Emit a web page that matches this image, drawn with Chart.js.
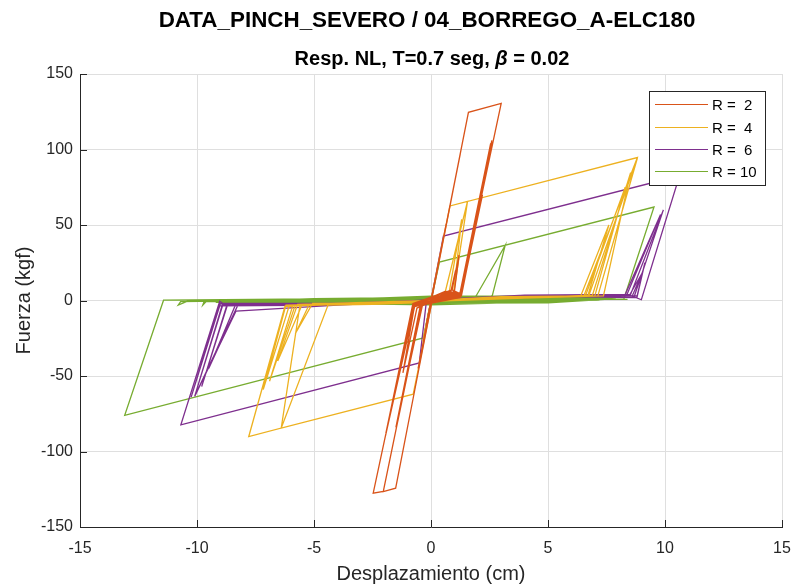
<!DOCTYPE html>
<html>
<head>
<meta charset="utf-8">
<script src="https://cdn.jsdelivr.net/npm/chart.js@4.4.1/dist/chart.umd.min.js"></script>
<style>
  html, body { margin: 0; padding: 0; background: #ffffff; }
  #wrap { width: 793px; height: 586px; position: relative; }
</style>
</head>
<body>
<div id="wrap"><canvas id="hyst" width="793" height="586"></canvas></div>
<script>
// Hysteresis loops, pinching model "severo", record 04_BORREGO_A-ELC180
const seriesLabels = ['R =  2', 'R =  4', 'R =  6', 'R = 10'];
const seriesColors = ['#D95319', '#EDB120', '#7E2F8E', '#77AC30'];

const dispTicks = [-15, -10, -5, 0, 5, 10, 15];
const forceTicks = [-150, -100, -50, 0, 50, 100, 150];

// R = 2 : displacement (cm) / force (kgf)
const dispR2 = [0, 0.64, -0.36, 1.03, -0.55, 1.35, -0.2, 1.25, 0.02, 1.6, 3.0, 1.25, 0.8, 0.35, 0.05,
  -1.51, -2.04, -0.4, 0.5, 1.25, 2.6, 1.3, 0.9, 1.05, 0.85, -0.4, -1.45, -0.42, 0.7, 1.25,
  2.45, 1.27, -0.4, -1.3, -0.42, 1.25, 2.55, 1.25, -0.4, -2.04, -2.47, -0.76, 0.3, 1.25,
  2.5, 1.26, -0.7, -1.95, -0.76, 0.6, 1.25, 2.6, 1.24, -0.76, -1.85, -0.77, 0.9, 1.2,
  1.0, -0.6, -1.2, -0.7, 1.3, 2.2, 1.3, 0.4, 1.22, 2.5, 1.28, 2.58, 1.25, -0.4, -1.42,
  -0.38, -0.78, -1.9, -0.74, -1.7, -0.8, 1.25, 2.4, 1.3, 0.5, 1.2, 2.55, 1.3, -0.45, -1.5,
  -0.35, -0.72, -1.93, -0.8, 0.4];
const forceR2 = [0, 50, -30, 80, -45, 105, -16, 97, 1, 124.6, 130.5, 3, 6, 4, 0,
  -124.3, -126.5, -3, 4, 4, 105, 4, 7, 20, 6, -3, -82, -3, 5, 4,
  93, 5, -2, -70, -3, 3, 100, 4, -3, -126.5, -127.6, -3.5, 3, 4,
  97, 3, -4, -90, -3, 6, 5, 106, 3, -4, -82, -2, 7, 30,
  6, -5, -48, -3, 4, 70, 5, 3, 3, 96, 3, 102, 2, -3, -80,
  -2, -3, -86, -3, -72, -4, 4, 88, 3, 3, 2, 104, 4, -3, -84,
  -2, -3, -88, -4, 2];

// R = 4
const dispR4 = [0, 0.4, -0.35, 0.81, 1.56, 0.55, 0.03, -0.76, -6.4, -4.4, -2.5, 0.2, 0.74, 1.31,
  0.95, 1.56, 8.82, 6.53, 3, 0, -3, -5.6, -6.4, -7.79, -6.24, -3, 0, 3, 6.74, 8.82,
  7.13, 3, -3, -6.2, -7.17, -6.05, 0, 6.9, 8.53, 7.37, 0, -5.8, -6.9, -5.9, 0, 6.6,
  8.3, 7.0, 0, -5.7, -6.55, -5.5, 0, 6.4, 7.6, 6.7, 0, -5.2, -5.8, -5.06, -3];
const forceR4 = [0, 31, -27, 62.6, 65.6, 2, -1.5, -62, -84.5, -3, -2.5, -1, 2, 53.7,
  3, 65.6, 94.7, 3, 2, 0, -2, -3, -84.5, -90.2, -3.8, -2, 0, 2.5, 3, 94.4,
  3, 2, -2, -3, -59, -3, -0.5, 3.5, 84.7, 3, 0, -3, -53.5, -3, 0, 3,
  75, 3, 0, -2.5, -40, -2.5, 0, 3, 50, 3, -0.5, -2.5, -22, -2, -2];

// R = 6
const dispR6 = [0, 0.3, -0.25, 0.53, 10.62, 8.99, 8.5, 4, 0, -0.2, -0.5, -10.69, -9.03, -8.8,
  -4, 0, 4, 8.53, 9.93, 8.67, 4, 0, -4, -8.9, -10.1, -8.9, -4, 0, 4, 8.3, 9.81, 8.35,
  4, -4, -9.05, -10.25, -9.0, -4, 4, 8.81, 9.14, 8.8, 4, -4, -8.7, -9.8, -8.7, -4, 4,
  8.5, 9.03, 8.6, 4, -4, -8.33, -10.1, -8.25, -9.5, -8.33, -4, 0];
const forceR6 = [0, 24, -20, 42.7, 82.6, 0.5, 3.5, 2.5, 0, -1, -41.3, -82.3, -0.5, -3,
  -2.5, 0, 3, 4, 60, 2, 3, 0, -3, -3, -63.5, -2, -2, 0, 3.5, 4, 57, 3,
  3, -3, -3.5, -64, -2, -2.5, 3.5, 3, 25, 2, 3, -3, -3, -57, -2, -2.5, 3,
  4, 18.4, 3, 3, -3, -7, -63.5, -3, -45, -2, -3, 0];

// R = 10
const dispR10 = [0, 0.2, -0.15, 0.36, 9.53, 8.24, 6, 3, 0, -0.33, -13.09, -11.43, -5, 0, 1.89,
  3.17, 2.6, 0, -5, -10.4, -10.8, -10.7, -5, 0, 6, 7.5, 0, -5, -9.6, -9.75, -9.7, 0, 5,
  6.8, 8.4, 6.8, 0, -7, -8, 0, 5, 6, 0, -6, -9, 0, 4, 0, -4, 0,
  -9.2, -5, 0, 5, 7.9, 5, 0, -5, -9.0, -5, 0, 5, 7.6, 5, 0, -5, -8.5, 0, 5, 7.2, 0, -6, 0, 6, 0];
const forceR10 = [0, 14, -11, 25.4, 61.9, 1, 0.8, 0.5, -0.2, -24.8, -76.1, 0.2, 1, 1.5, 2,
  36.5, 2, 1, -0.5, -0.5, -3, -0.8, 0.5, 2.5, 2.8, 1, -2.5, -1.5, -0.5, -3, -0.8, 1.5, 2,
  0.7, 0.7, 0.7, -1.5, -1, -2, 0.5, 1.5, 2.5, -0.5, -1.5, -1, -2.8, -1.2, 0.2, -2, 0,
  -1.2, 0, 2.8, 2.6, 2.0, -0.5, -2.6, -1.8, -1.0, 1.2, 2.0, 1.8, 1.0, -1.5, -1.8, -0.8, -0.5, 1.0, 1.0, 0.3, -1.0, -0.2, 0.3, -0.3, -0.3];

const seriesDisp = [dispR2, dispR4, dispR6, dispR10];
const seriesForce = [forceR2, forceR4, forceR6, forceR10];

const AX = '#262626';
const FONT = '"Liberation Sans", Arial, Helvetica, sans-serif';

const datasets = seriesLabels.map((label, s) => ({
  label,
  data: seriesDisp[s].map((x, i) => ({ x, y: seriesForce[s][i] })),
  showLine: true,
  borderColor: seriesColors[s],
  backgroundColor: seriesColors[s],
  borderWidth: 1.3,
  pointRadius: 0,
  tension: 0,
  fill: false
}));

// Titles, axis names, inward tick marks and the boxed legend
const decorations = {
  id: 'decorations',
  afterDraw(chart) {
    const ctx = chart.ctx;
    const area = chart.chartArea;
    const xs = chart.scales.x, ys = chart.scales.y;
    const cx = (area.left + area.right) / 2;
    ctx.save();

    // inward tick marks
    ctx.strokeStyle = AX;
    ctx.lineWidth = 1;
    ctx.beginPath();
    dispTicks.forEach(v => {
      const px = Math.round(xs.getPixelForValue(v)) + 0.5;
      ctx.moveTo(px, area.bottom);
      ctx.lineTo(px, area.bottom - 7);
    });
    forceTicks.forEach(v => {
      const py = Math.round(ys.getPixelForValue(v)) + 0.5;
      ctx.moveTo(area.left, py);
      ctx.lineTo(area.left + 7, py);
    });
    ctx.stroke();

    // title and subtitle
    ctx.fillStyle = '#000000';
    ctx.textAlign = 'center';
    ctx.textBaseline = 'middle';
    ctx.font = 'bold 22.4px ' + FONT;
    ctx.fillText('DATA_PINCH_SEVERO / 04_BORREGO_A-ELC180', cx - 4, 21);

    const partA = 'Resp. NL, T=0.7 seg, ';
    const partB = '\u03B2';
    const partC = ' = 0.02';
    const fSub = 'bold 20px ' + FONT;
    const fBeta = 'italic bold 20px ' + FONT;
    ctx.font = fSub;
    const wA = ctx.measureText(partA).width;
    const wC = ctx.measureText(partC).width;
    ctx.font = fBeta;
    const wB = ctx.measureText(partB).width;
    let sx = cx + 1 - (wA + wB + wC) / 2;
    ctx.textAlign = 'left';
    ctx.font = fSub;
    ctx.fillText(partA, sx, 59);
    ctx.font = fBeta;
    ctx.fillText(partB, sx + wA, 59);
    ctx.font = fSub;
    ctx.fillText(partC, sx + wA + wB, 59);

    // axis names
    ctx.fillStyle = AX;
    ctx.textAlign = 'center';
    ctx.font = '20px ' + FONT;
    ctx.fillText('Desplazamiento (cm)', cx, 574);
    ctx.save();
    ctx.translate(24, (area.top + area.bottom) / 2);
    ctx.rotate(-Math.PI / 2);
    ctx.fillText('Fuerza (kgf)', 0, 0);
    ctx.restore();

    // legend box drawn over the data
    const lx = 649.5, ly = 91.5, lw = 116, lh = 94;
    ctx.fillStyle = '#ffffff';
    ctx.fillRect(lx, ly, lw, lh);
    ctx.strokeStyle = AX;
    ctx.lineWidth = 1;
    ctx.strokeRect(lx, ly, lw, lh);
    const rows = [104.5, 127.5, 149.5, 171.5];
    ctx.font = '15px ' + FONT;
    ctx.textAlign = 'left';
    ctx.textBaseline = 'middle';
    chart.data.datasets.forEach((ds, i) => {
      ctx.strokeStyle = ds.borderColor;
      ctx.lineWidth = 1.2;
      ctx.beginPath();
      ctx.moveTo(655, rows[i]);
      ctx.lineTo(708, rows[i]);
      ctx.stroke();
      ctx.fillStyle = '#000000';
      ctx.fillText(ds.label, 712, rows[i] + 1);
    });
    ctx.restore();
  }
};

new Chart(document.getElementById('hyst'), {
  type: 'scatter',
  data: { datasets },
  plugins: [decorations],
  options: {
    responsive: false,
    animation: false,
    layout: { padding: { top: 74, right: 11, left: 0, bottom: 0 } },
    plugins: {
      legend: { display: false },
      tooltip: { enabled: false },
      title: { display: false }
    },
    scales: {
      x: {
        type: 'linear',
        min: -15, max: 15,
        afterBuildTicks(scale) { scale.ticks = dispTicks.map(v => ({ value: v })); },
        afterFit(scale) {
          scale.height = 59;
          scale.paddingLeft = 0;
          scale.paddingRight = 0;
        },
        grid: { color: '#dfdfdf', lineWidth: 1, drawTicks: false },
        border: { color: AX, width: 1 },
        ticks: {
          color: AX, padding: 12,
          font: { family: FONT, size: 16 },
          maxRotation: 0,
          callback: v => String(v)
        }
      },
      y: {
        type: 'linear',
        min: -150, max: 150,
        afterBuildTicks(scale) { scale.ticks = forceTicks.map(v => ({ value: v })); },
        afterFit(scale) {
          scale.width = 80;
          scale.paddingTop = 0;
          scale.paddingBottom = 0;
        },
        grid: { color: '#dfdfdf', lineWidth: 1, drawTicks: false },
        border: { color: AX, width: 1 },
        ticks: {
          color: AX, padding: 7,
          font: { family: FONT, size: 16 },
          callback: v => String(v)
        }
      }
    }
  }
});
</script>
</body>
</html>
